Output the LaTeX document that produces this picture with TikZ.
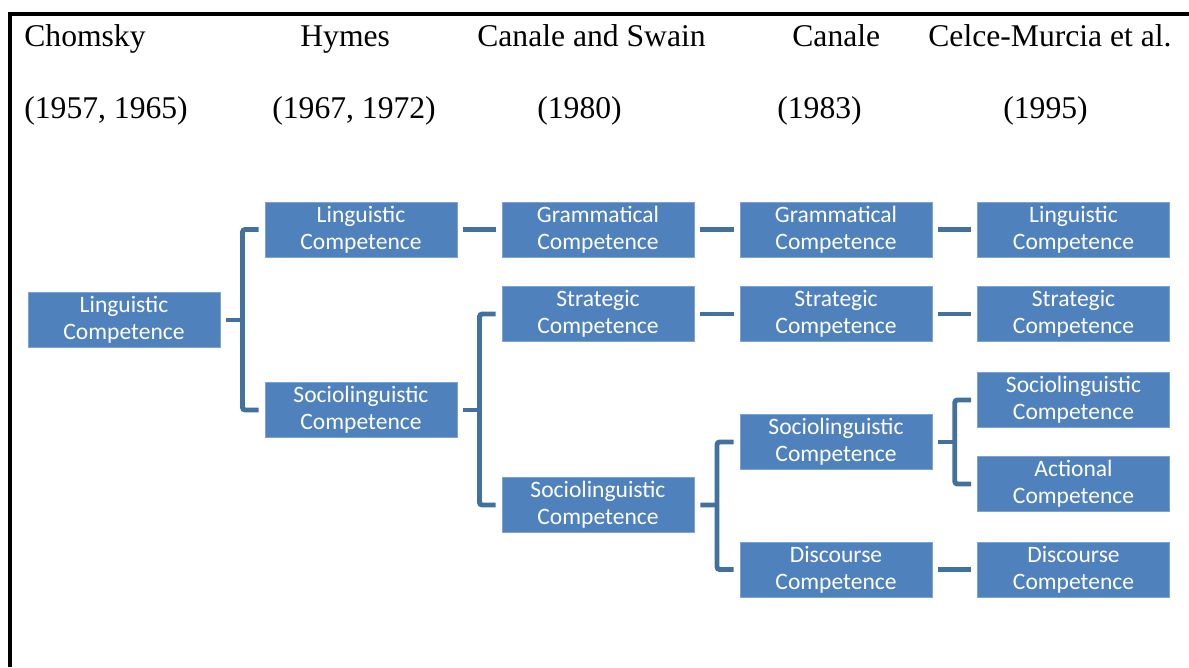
\documentclass[tikz,border=0pt]{standalone}
\usepackage{fontspec}
\setmainfont{Liberation Serif}
\newfontfamily\boxfont{Carlito}
\usetikzlibrary{positioning,calc}
\definecolor{cmblue}{HTML}{4F81BD}
\definecolor{cmline}{HTML}{41719C}
\definecolor{cmedge}{HTML}{7FA3D0}
\tikzset{
  bx/.style={draw=cmedge, line width=0.4pt, fill=cmblue, text=white, align=center, minimum width=3.84cm, minimum height=1.1cm, inner sep=1pt, font=\boxfont\fontsize{13.4}{15.4}\selectfont},
  hd/.style={anchor=base west, inner sep=0pt, font=\fontsize{18}{20}\selectfont},
  lnk/.style={draw=cmline, line width=2.8pt, rounded corners=1.5pt},
  frm/.style={line width=2pt, color=black},
}
\begin{document}
\begin{tikzpicture}[x=0.02cm, y=-0.02cm]
  \useasboundingbox (0,0) rectangle (1189,667);
  % frame
  \draw[frm] (10,667) -- (10,14) -- (1189,14);
  % headers
  \node[hd] (h1) at (24,46) {Chomsky};
  \node[hd] (h2) at (300,46) {Hymes};
  \node[hd] (h3) at (477,46) {Canale and Swain};
  \node[hd] (h4) at (792,46) {Canale};
  \node[hd] (h5) at (928,46) {Celce-Murcia et al.};
  \node[hd] (y1) at (24,118) {(1957, 1965)};
  \node[hd] (y2) at (272,118) {(1967, 1972)};
  \node[hd] (y3) at (537,118) {(1980)};
  \node[hd] (y4) at (777,118) {(1983)};
  \node[hd] (y5) at (1003,118) {(1995)};
  % boxes
  \node[bx] (l1) at (124,320) {Linguistic\\Competence};
  \node[bx] (l2) at (361,229.5) {Linguistic\\Competence};
  \node[bx] (s2) at (361,410) {Sociolinguistic\\Competence};
  \node[bx] (gr3) at (598,229.5) {Grammatical\\Competence};
  \node[bx] (st3) at (598,314) {Strategic\\Competence};
  \node[bx] (so3) at (598,505) {Sociolinguistic\\Competence};
  \node[bx] (gr4) at (836,229.5) {Grammatical\\Competence};
  \node[bx] (st4) at (836,314) {Strategic\\Competence};
  \node[bx] (so4) at (836,442) {Sociolinguistic\\Competence};
  \node[bx] (di4) at (836,569.5) {Discourse\\Competence};
  \node[bx] (li5) at (1073.5,229.5) {Linguistic\\Competence};
  \node[bx] (st5) at (1073.5,314) {Strategic\\Competence};
  \node[bx] (so5) at (1073.5,400) {Sociolinguistic\\Competence};
  \node[bx] (ac5) at (1073.5,484) {Actional\\Competence};
  \node[bx] (di5) at (1073.5,569.5) {Discourse\\Competence};
  % straight links
  \foreach \a/\b in {l2/gr3, gr3/gr4, gr4/li5, st3/st4, st4/st5, di4/di5}
    \draw[lnk] ([xshift=1.2mm]\a.east) -- ([xshift=-1.2mm]\b.west);
  % brackets
  \foreach \p/\a/\b in {l1/l2/s2, s2/st3/so3, so3/so4/di4, so4/so5/ac5}
  {
    \coordinate (m) at ($(\p.east)!0.5!(\p.east -| \a.west)$);
    \draw[lnk] ([xshift=1.2mm]\p.east) -- (m);
    \draw[lnk] ([xshift=-1.2mm]\a.west) -| (m) |- ([xshift=-1.2mm]\b.west);
  }
\end{tikzpicture}
\end{document}
